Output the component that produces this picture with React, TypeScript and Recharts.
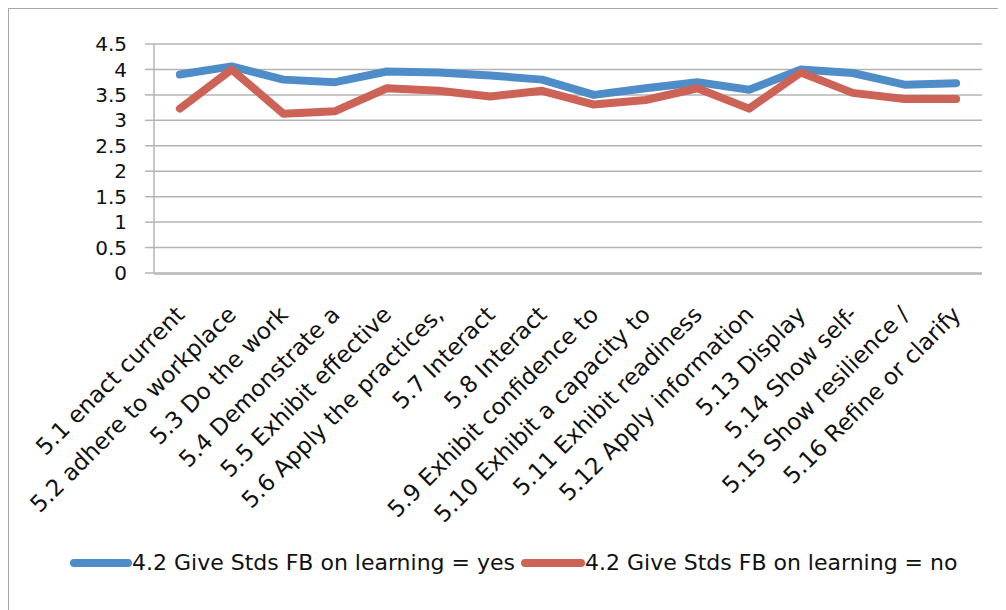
import React from 'react';
import { LineChart, Line, XAxis, YAxis, CartesianGrid, Legend } from 'recharts';

const categories = [
  '5.1 enact current',
  '5.2 adhere to workplace',
  '5.3 Do the work',
  '5.4 Demonstrate a',
  '5.5 Exhibit effective',
  '5.6 Apply the practices,',
  '5.7 Interact',
  '5.8 Interact',
  '5.9 Exhibit confidence to',
  '5.10 Exhibit a capacity to',
  '5.11 Exhibit readiness',
  '5.12 Apply information',
  '5.13 Display',
  '5.14 Show self-',
  '5.15 Show resilience /',
  '5.16 Refine or clarify',
];

const yesValues = [3.9, 4.06, 3.8, 3.75, 3.96, 3.94, 3.88, 3.8, 3.5, 3.63, 3.75, 3.6, 4.0, 3.93, 3.7, 3.73];
const noValues = [3.23, 4.0, 3.13, 3.18, 3.63, 3.58, 3.47, 3.58, 3.31, 3.4, 3.63, 3.23, 3.94, 3.54, 3.42, 3.42];

const yTicks = [0, 0.5, 1, 1.5, 2, 2.5, 3, 3.5, 4, 4.5];

const yesName = '4.2 Give Stds FB on learning = yes';
const noName = '4.2 Give Stds FB on learning = no';

const BLUE = '#4f8dc9';
const RED = '#cd6257';
const GRID = '#b4b4b4';
const FONT = '"DejaVu Sans", "Open Sans", sans-serif';

const data = categories.map((c, i) => ({ cat: c, idx: i, yes: yesValues[i], no: noValues[i] }));
const boundaryTicks = Array.from({ length: categories.length + 1 }, (_, i) => i);

const CatTick = (props: any) => {
  const { x, y, payload } = props;
  return (
    <g transform={`translate(${x + 6},${y + 35})`}>
      <text
        transform="rotate(-45)"
        textAnchor="end"
        fontSize={23}
        fontFamily={FONT}
        fill="#111"
      >
        {payload.value}
      </text>
    </g>
  );
};

const LegendBox = () => (
  <div style={{ display: 'flex', alignItems: 'center', fontFamily: FONT, fontSize: 22, color: '#111', whiteSpace: 'nowrap' }}>
    <span style={{ display: 'inline-block', width: 62, height: 8, borderRadius: 4, background: BLUE }} />
    <span style={{ marginRight: 6 }}>{yesName}</span>
    <span style={{ display: 'inline-block', width: 64, height: 8, borderRadius: 4, background: RED }} />
    <span>{noName}</span>
  </div>
);

export default function App() {
  return (
    <div
      style={{
        width: 997,
        height: 601,
        borderTop: '1px solid #a8a8a8',
        borderLeft: '1px solid #a8a8a8',
        background: '#fff',
        position: 'relative',
      }}
    >
      <LineChart
        width={997}
        height={601}
        data={data}
        margin={{ top: 35, right: 24, left: 0, bottom: 335 }}
      >
        <CartesianGrid xAxisId="cat" horizontal vertical={false} stroke={GRID} strokeWidth={1.5} />
        <XAxis
          xAxisId="cat"
          dataKey="cat"
          scale="band"
          interval={0}
          axisLine={false}
          tickLine={false}
          tick={<CatTick />}
          height={1}
        />
        <XAxis
          xAxisId="grid"
          dataKey="idx"
          type="number"
          domain={[0, categories.length]}
          ticks={boundaryTicks}
          tick={false}
          tickSize={8}
          tickLine={{ stroke: GRID, strokeWidth: 1.5 }}
          axisLine={{ stroke: GRID, strokeWidth: 1.5 }}
          height={1}
          allowDataOverflow
        />
        <YAxis
          domain={[0, 4.5]}
          ticks={yTicks}
          width={145}
          tickSize={9}
          tickMargin={18}
          tickLine={{ stroke: GRID, strokeWidth: 1.5 }}
          axisLine={{ stroke: GRID, strokeWidth: 1.5 }}
          tick={{ fontSize: 20, fontFamily: FONT, fill: '#111' }}
          interval={0}
        />
        <Legend
          layout="horizontal"
          verticalAlign="middle"
          align="center"
          content={<LegendBox />}
          wrapperStyle={{ top: 541, left: 61, width: 'auto' }}
        />
        <Line
          xAxisId="cat"
          type="linear"
          dataKey="yes"
          name={yesName}
          stroke={BLUE}
          strokeWidth={8}
          strokeLinejoin="round"
          strokeLinecap="round"
          dot={false}
          activeDot={false}
          isAnimationActive={false}
        />
        <Line
          xAxisId="cat"
          type="linear"
          dataKey="no"
          name={noName}
          stroke={RED}
          strokeWidth={8}
          strokeLinejoin="round"
          strokeLinecap="round"
          dot={false}
          activeDot={false}
          isAnimationActive={false}
        />
      </LineChart>
    </div>
  );
}
